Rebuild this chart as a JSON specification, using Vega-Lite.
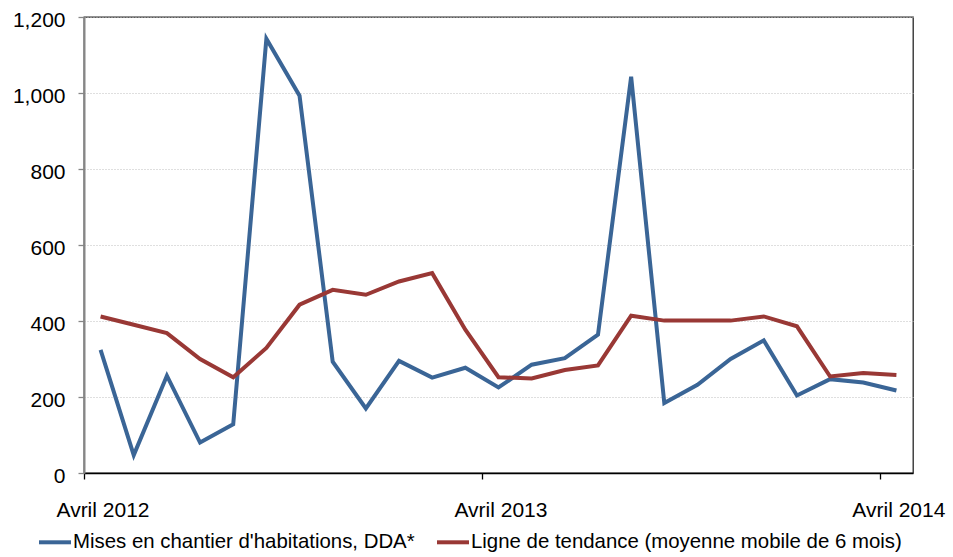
{
  "$schema": "https://vega.github.io/schema/vega-lite/v6.json",
  "width": 829,
  "height": 456,
  "autosize": {"type": "none"},
  "padding": {"left": 84, "top": 17, "right": 40, "bottom": 84},
  "background": "white",
  "config": {
    "font": "Liberation Sans",
    "view": {"stroke": "#262626", "strokeWidth": 1.3},
    "axis": {"labelFont": "Liberation Sans", "labelFontSize": 21, "labelColor": "#000000", "title": null}
  },
  "data": {
    "values": [
      {"mois": "Avril 2012", "serie": "Mises en chantier d'habitations, DDA*", "valeur": 324},
      {"mois": "Mai 2012", "serie": "Mises en chantier d'habitations, DDA*", "valeur": 47},
      {"mois": "Juin 2012", "serie": "Mises en chantier d'habitations, DDA*", "valeur": 256},
      {"mois": "Juillet 2012", "serie": "Mises en chantier d'habitations, DDA*", "valeur": 80},
      {"mois": "Août 2012", "serie": "Mises en chantier d'habitations, DDA*", "valeur": 128},
      {"mois": "Septembre 2012", "serie": "Mises en chantier d'habitations, DDA*", "valeur": 1143},
      {"mois": "Octobre 2012", "serie": "Mises en chantier d'habitations, DDA*", "valeur": 993},
      {"mois": "Novembre 2012", "serie": "Mises en chantier d'habitations, DDA*", "valeur": 293},
      {"mois": "Décembre 2012", "serie": "Mises en chantier d'habitations, DDA*", "valeur": 170},
      {"mois": "Janvier 2013", "serie": "Mises en chantier d'habitations, DDA*", "valeur": 295},
      {"mois": "Février 2013", "serie": "Mises en chantier d'habitations, DDA*", "valeur": 251},
      {"mois": "Mars 2013", "serie": "Mises en chantier d'habitations, DDA*", "valeur": 277},
      {"mois": "Avril 2013", "serie": "Mises en chantier d'habitations, DDA*", "valeur": 225},
      {"mois": "Mai 2013", "serie": "Mises en chantier d'habitations, DDA*", "valeur": 285},
      {"mois": "Juin 2013", "serie": "Mises en chantier d'habitations, DDA*", "valeur": 302},
      {"mois": "Juillet 2013", "serie": "Mises en chantier d'habitations, DDA*", "valeur": 364},
      {"mois": "Août 2013", "serie": "Mises en chantier d'habitations, DDA*", "valeur": 1043},
      {"mois": "Septembre 2013", "serie": "Mises en chantier d'habitations, DDA*", "valeur": 184},
      {"mois": "Octobre 2013", "serie": "Mises en chantier d'habitations, DDA*", "valeur": 232},
      {"mois": "Novembre 2013", "serie": "Mises en chantier d'habitations, DDA*", "valeur": 300},
      {"mois": "Décembre 2013", "serie": "Mises en chantier d'habitations, DDA*", "valeur": 349},
      {"mois": "Janvier 2014", "serie": "Mises en chantier d'habitations, DDA*", "valeur": 204},
      {"mois": "Février 2014", "serie": "Mises en chantier d'habitations, DDA*", "valeur": 247},
      {"mois": "Mars 2014", "serie": "Mises en chantier d'habitations, DDA*", "valeur": 238},
      {"mois": "Avril 2014", "serie": "Mises en chantier d'habitations, DDA*", "valeur": 217},
      {"mois": "Avril 2012", "serie": "Ligne de tendance (moyenne mobile de 6 mois)", "valeur": 412},
      {"mois": "Mai 2012", "serie": "Ligne de tendance (moyenne mobile de 6 mois)", "valeur": 390},
      {"mois": "Juin 2012", "serie": "Ligne de tendance (moyenne mobile de 6 mois)", "valeur": 368},
      {"mois": "Juillet 2012", "serie": "Ligne de tendance (moyenne mobile de 6 mois)", "valeur": 300},
      {"mois": "Août 2012", "serie": "Ligne de tendance (moyenne mobile de 6 mois)", "valeur": 252},
      {"mois": "Septembre 2012", "serie": "Ligne de tendance (moyenne mobile de 6 mois)", "valeur": 329},
      {"mois": "Octobre 2012", "serie": "Ligne de tendance (moyenne mobile de 6 mois)", "valeur": 443},
      {"mois": "Novembre 2012", "serie": "Ligne de tendance (moyenne mobile de 6 mois)", "valeur": 482},
      {"mois": "Décembre 2012", "serie": "Ligne de tendance (moyenne mobile de 6 mois)", "valeur": 469},
      {"mois": "Janvier 2013", "serie": "Ligne de tendance (moyenne mobile de 6 mois)", "valeur": 504},
      {"mois": "Février 2013", "serie": "Ligne de tendance (moyenne mobile de 6 mois)", "valeur": 526},
      {"mois": "Mars 2013", "serie": "Ligne de tendance (moyenne mobile de 6 mois)", "valeur": 377},
      {"mois": "Avril 2013", "serie": "Ligne de tendance (moyenne mobile de 6 mois)", "valeur": 252},
      {"mois": "Mai 2013", "serie": "Ligne de tendance (moyenne mobile de 6 mois)", "valeur": 249},
      {"mois": "Juin 2013", "serie": "Ligne de tendance (moyenne mobile de 6 mois)", "valeur": 271},
      {"mois": "Juillet 2013", "serie": "Ligne de tendance (moyenne mobile de 6 mois)", "valeur": 283},
      {"mois": "Août 2013", "serie": "Ligne de tendance (moyenne mobile de 6 mois)", "valeur": 414},
      {"mois": "Septembre 2013", "serie": "Ligne de tendance (moyenne mobile de 6 mois)", "valeur": 401},
      {"mois": "Octobre 2013", "serie": "Ligne de tendance (moyenne mobile de 6 mois)", "valeur": 401},
      {"mois": "Novembre 2013", "serie": "Ligne de tendance (moyenne mobile de 6 mois)", "valeur": 401},
      {"mois": "Décembre 2013", "serie": "Ligne de tendance (moyenne mobile de 6 mois)", "valeur": 412},
      {"mois": "Janvier 2014", "serie": "Ligne de tendance (moyenne mobile de 6 mois)", "valeur": 386},
      {"mois": "Février 2014", "serie": "Ligne de tendance (moyenne mobile de 6 mois)", "valeur": 254},
      {"mois": "Mars 2014", "serie": "Ligne de tendance (moyenne mobile de 6 mois)", "valeur": 263},
      {"mois": "Avril 2014", "serie": "Ligne de tendance (moyenne mobile de 6 mois)", "valeur": 258}
    ]
  },
  "mark": {"type": "line", "strokeWidth": 4, "strokeJoin": "miter"},
  "encoding": {
    "x": {
      "field": "mois",
      "type": "ordinal",
      "sort": null,
      "scale": {"type": "point", "padding": 0.5},
      "axis": {
        "values": ["Avril 2012", "Avril 2013", "Avril 2014"],
        "labelAngle": 0,
        "domainColor": "#000000",
        "domainWidth": 1.3,
        "tickColor": "#000000",
        "tickWidth": 1.3,
        "tickSize": 6,
        "tickOffset": -16.58,
        "labelOffset": 18.5,
        "labelPadding": 20,
        "labelBaseline": "top",
        "grid": false
      }
    },
    "y": {
      "field": "valeur",
      "type": "quantitative",
      "scale": {"domain": [0, 1200], "nice": false, "zero": true},
      "axis": {
        "values": [0, 200, 400, 600, 800, 1000, 1200],
        "format": ",d",
        "domainColor": "#868686",
        "domainWidth": 2,
        "tickColor": "#868686",
        "tickWidth": 1.3,
        "tickSize": 6,
        "labelPadding": 13,
        "labelBaseline": "middle",
        "labelOffset": 3,
        "grid": true,
        "gridColor": "#bfbfbf",
        "gridDash": [1, 2],
        "gridWidth": 1
      }
    },
    "color": {
      "field": "serie",
      "type": "nominal",
      "sort": null,
      "scale": {
        "domain": ["Mises en chantier d'habitations, DDA*", "Ligne de tendance (moyenne mobile de 6 mois)"],
        "range": ["#3a6596", "#993835"]
      },
      "legend": {
        "title": null,
        "orient": "none",
        "direction": "horizontal",
        "legendX": -47,
        "legendY": 507,
        "symbolType": "stroke",
        "symbolSize": 1024,
        "symbolStrokeWidth": 4,
        "labelFont": "Liberation Sans",
        "labelFontSize": 20.4,
        "labelColor": "#000000",
        "labelOffset": 0,
        "labelLimit": 700,
        "columnPadding": 14,
        "padding": 0
      }
    }
  }
}
